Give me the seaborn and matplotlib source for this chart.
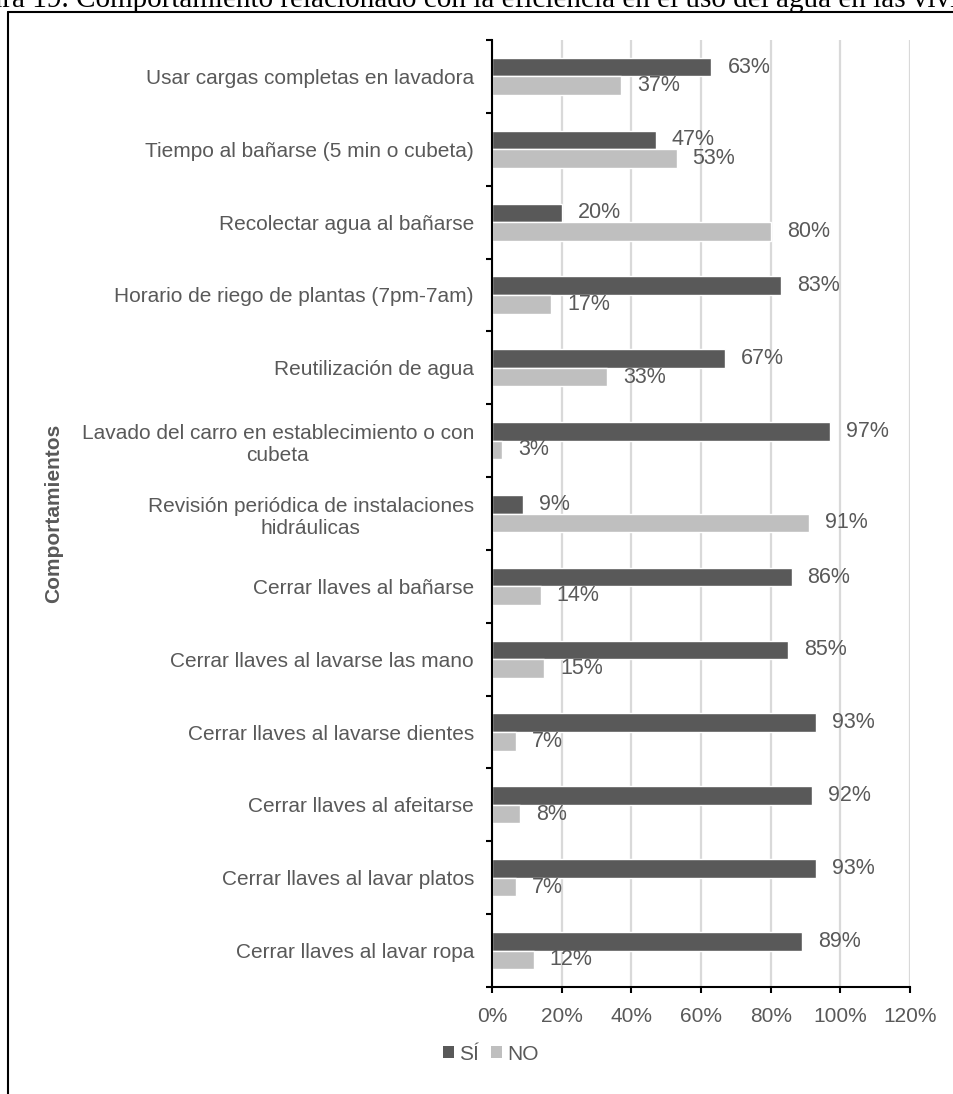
import numpy as np
import pandas as pd
import matplotlib
matplotlib.use("Agg")
import matplotlib.pyplot as plt
from matplotlib.lines import Line2D
from matplotlib.patches import Patch
import seaborn as sns

# Behaviour items (top to bottom) and percentage of households answering SÍ / NO
comportamientos = [
    "Usar cargas completas en lavadora",
    "Tiempo al bañarse (5 min o cubeta)",
    "Recolectar agua al bañarse",
    "Horario de riego de plantas (7pm-7am)",
    "Reutilización de agua",
    "Lavado del carro en establecimiento o con\ncubeta",
    "Revisión periódica de instalaciones\nhidráulicas",
    "Cerrar llaves al bañarse",
    "Cerrar llaves al lavarse las mano",
    "Cerrar llaves al lavarse dientes",
    "Cerrar llaves al afeitarse",
    "Cerrar llaves al lavar platos",
    "Cerrar llaves al lavar ropa",
]
si = [63, 47, 20, 83, 67, 97, 9, 86, 85, 93, 92, 93, 89]
no = [37, 53, 80, 17, 33, 3, 91, 14, 15, 7, 8, 7, 12]
series = ["SÍ", "NO"]
x_ticks = [0, 20, 40, 60, 80, 100, 120]

titulo_num = "Figura 19."
titulo = "Comportamiento relacionado con la eficiencia en el uso del agua en las viviendas"

df = pd.DataFrame({
    "comportamiento": comportamientos * 2,
    "valor": si + no,
    "respuesta": [series[0]] * len(si) + [series[1]] * len(no),
})

sns.set_theme(style="white")
plt.rcParams["font.family"] = ["Liberation Sans", "DejaVu Sans"]

TXT = "#595959"
colores = {"SÍ": "#595959", "NO": "#BFBFBF"}
W, H = 954, 1094

fig = plt.figure(figsize=(W / 100, H / 100), dpi=100)
ax = fig.add_axes([492 / W, 1 - 987 / H, (910 - 492) / W, (987 - 40) / H])

sns.barplot(data=df, x="valor", y="comportamiento", hue="respuesta",
            orient="h", palette=colores, width=0.51, gap=0, saturation=1,
            errorbar=None, legend=False, ax=ax)

for cont in ax.containers:
    ax.bar_label(cont, fmt="{:.0f}%", padding=11.5, fontsize=15.5, color=TXT)

ax.set_xlim(0, 120)
ax.set_ylim(len(comportamientos) - 0.5, -0.5)
ax.set_xticks(x_ticks)
ax.set_xticklabels([f"{t}%" for t in x_ticks])
ax.set_yticks(np.arange(-0.5, len(comportamientos), 1), minor=True)

ax.set_axisbelow(True)
ax.grid(axis="x", color="#D9D9D9", lw=1.6)
ax.grid(axis="y", visible=False)

for s in ["top", "right"]:
    ax.spines[s].set_visible(False)
for s in ["left", "bottom"]:
    ax.spines[s].set_color("black")
    ax.spines[s].set_linewidth(1.5)

ax.tick_params(axis="y", which="major", length=0, pad=13, labelsize=15, labelcolor=TXT)
ax.tick_params(axis="y", which="minor", left=True, length=4.5, width=1.5, color="black", direction="out")
ax.tick_params(axis="x", which="major", bottom=True, length=4.5, width=1.5, color="black",
               direction="out", pad=10, labelsize=15, labelcolor=TXT)
for lbl in ax.get_yticklabels():
    lbl.set_multialignment("center")

ax.set_xlabel("")
ax.set_ylabel("Comportamientos", fontsize=15, fontweight="bold", color=TXT)
ax.yaxis.set_label_coords(-1.025, 0.5)

# legend below the plot
handles = [Patch(facecolor=colores[s], edgecolor="none", label=s) for s in series]
fig.legend(handles=handles, loc="center", bbox_to_anchor=(491 / W, 1 - 1054 / H), ncol=2,
           frameon=False, fontsize=15, labelcolor=TXT, handlelength=0.53, handleheight=0.53,
           handletextpad=0.24, columnspacing=0.58)

# frame around the chart
fig.add_artist(Line2D([8 / W, 8 / W], [0, 1 - 12 / H], color="black", lw=1.5, transform=fig.transFigure))
fig.add_artist(Line2D([8 / W, 1.0], [1 - 12 / H, 1 - 12 / H], color="black", lw=1.5, transform=fig.transFigure))

# caption above the frame
fig.text(76 / W, 1 - 7 / H, titulo, fontsize=21, family="Liberation Serif",
         ha="left", va="baseline", color="black")
fig.text(69 / W, 1 - 7 / H, titulo_num, fontsize=21, family="Liberation Serif",
         ha="right", va="baseline", color="black")

fig.savefig("out.png", dpi=100)
